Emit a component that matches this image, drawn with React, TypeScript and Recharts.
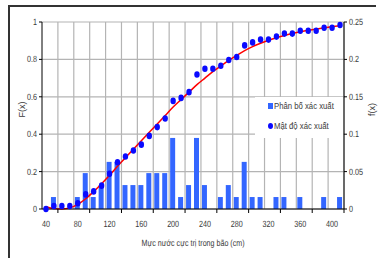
import { ComposedChart, Bar, Line, Scatter, XAxis, YAxis, CartesianGrid, ReferenceLine } from "recharts"

// water level bins (cm)
const levels = [40, 50, 60, 70, 80, 90, 100, 110, 120, 130, 140, 150, 160, 170, 180, 190, 200, 210, 220, 230, 240, 250, 260, 270, 280, 290, 300, 310, 320, 330, 340, 350, 360, 370, 380, 390, 400, 410]

// f(x) - bars, right axis
const density = [0, 0.016, 0, 0, 0.016, 0.048, 0.016, 0.032, 0.063, 0.063, 0.032, 0.032, 0.032, 0.048, 0.048, 0.048, 0.095, 0.016, 0.032, 0.095, 0.032, 0, 0.016, 0.032, 0.016, 0.063, 0.016, 0.016, 0, 0.016, 0.016, 0, 0.016, 0, 0, 0.016, 0, 0.016]

// F(x) - empirical points, left axis
const cumulative = [0, 0.016, 0.016, 0.016, 0.031, 0.078, 0.094, 0.125, 0.188, 0.25, 0.281, 0.313, 0.344, 0.391, 0.438, 0.484, 0.578, 0.594, 0.625, 0.719, 0.75, 0.75, 0.766, 0.797, 0.813, 0.875, 0.891, 0.906, 0.906, 0.922, 0.938, 0.938, 0.953, 0.953, 0.953, 0.969, 0.969, 0.984]

// fitted curve
const fitted = [0.012, 0.002, 0, 0.006, 0.025, 0.055, 0.093, 0.135, 0.18, 0.228, 0.274, 0.32, 0.365, 0.41, 0.455, 0.5, 0.545, 0.585, 0.625, 0.665, 0.7, 0.735, 0.765, 0.795, 0.822, 0.847, 0.868, 0.886, 0.902, 0.916, 0.928, 0.939, 0.948, 0.956, 0.963, 0.969, 0.975, 0.98]

const xTicks = [40, 80, 120, 160, 200, 240, 280, 320, 360, 400]
const gridX = [55, 75, 95, 115, 135, 155, 175, 195, 215, 235, 255, 275, 295, 315, 335, 355, 375, 395, 415]
const leftTicks = [0, 0.2, 0.4, 0.6, 0.8, 1]
const rightTicks = [0, 0.05, 0.1, 0.15, 0.2, 0.25]

const data = levels.map((x, i) => ({
  x,
  f: density[i],
  F: cumulative[i],
  fit: fitted[i]
}))

const W = 379
const H = 258
const TOP = 22
const LEFT_W = 42
const RIGHT_W = 35
const X_H = 49
const plotBottom = H - X_H
const plotW = W - LEFT_W - RIGHT_W
const domain: [number, number] = [35, 415]

const font = "'Liberation Sans', Arial, sans-serif"
const textColor = "#3a3a3a"
const gridColor = "#b4b4b4"
const squeeze = 0.8 // the source picture is narrowed horizontally

// rough width of a number label at 9px, squeezed
const numWidth = (s: string) =>
  s.split("").reduce((w, c) => w + (c === "." ? 2.5 : 5), 0) * squeeze

function Narrow({ x, y, anchor, children, baseline, len }: any) {
  return (
    <text
      x={x}
      y={y}
      textAnchor={anchor}
      dominantBaseline={baseline || "auto"}
      textLength={len}
      lengthAdjust="spacingAndGlyphs"
      fontSize={9}
      fontFamily={font}
      fill={textColor}
      style={{ textRendering: "geometricPrecision" }}
    >
      {children}
    </text>
  )
}

function XTick(props: any) {
  const { x, payload } = props
  const off = 15 * plotW / (domain[1] - domain[0])
  const s = String(payload.value)
  return (
    <g>
      <line x1={x + off} x2={x + off} y1={plotBottom} y2={plotBottom + 4} stroke="#000" />
      <Narrow x={x} y={plotBottom + 18} anchor="middle" len={numWidth(s)}>{s}</Narrow>
    </g>
  )
}

function YTick(props: any) {
  const { x, y, payload, textAnchor } = props
  const s = String(payload.value)
  return <Narrow x={x} y={y} anchor={textAnchor} baseline="central" len={numWidth(s)}>{s}</Narrow>
}

function SideTitle(props: any) {
  const { viewBox, text, cx } = props
  const cy = viewBox ? viewBox.y + viewBox.height / 2 - 6 : 110
  return (
    <text x={cx} y={cy} transform={`rotate(-90 ${cx} ${cy})`} textAnchor="middle" dominantBaseline="central" fontSize={9} fontFamily={font} fill={textColor}>
      {text}
    </text>
  )
}

function BottomTitle(props: any) {
  const { viewBox, text } = props
  const cx = viewBox ? viewBox.x + viewBox.width / 2 : 193
  return <Narrow x={cx} y={plotBottom + 37} anchor="middle" len={103}>{text}</Narrow>
}

function Dot(props: any) {
  const { cx, cy } = props
  return <ellipse cx={cx} cy={cy} rx={2.7} ry={3.3} fill="#0a0aff" />
}

const legendText = {
  position: "absolute" as const,
  left: 19,
  lineHeight: "12px",
  whiteSpace: "nowrap" as const,
  transform: "scaleX(0.86)",
  transformOrigin: "left center"
}

export default function App() {
  return (
    <div style={{ position: "absolute", left: 0, top: 0, width: W, height: H, background: "#fff", overflow: "hidden" }}>

      <div style={{ position: "absolute", left: 8, top: 5, width: 366, height: 260, borderLeft: "2px solid #333", borderTop: "2px solid #333" }} />

      <ComposedChart width={W} height={H} data={data} margin={{ top: TOP, right: 0, bottom: 0, left: 0 }}>

        <CartesianGrid yAxisId="left" vertical={false} stroke={gridColor} strokeWidth={1.2} />

        {gridX.map(g => (
          <ReferenceLine key={g} x={g} yAxisId="left" stroke={gridColor} strokeWidth={1.2} />
        ))}

        <XAxis
          dataKey="x"
          type="number"
          domain={domain}
          ticks={xTicks}
          interval={0}
          height={X_H}
          tickLine={false}
          axisLine={{ stroke: "#000" }}
          tick={<XTick />}
          label={<BottomTitle text="Mực nước cực trị trong bão (cm)" />}
        />

        <YAxis
          yAxisId="left"
          orientation="left"
          width={LEFT_W}
          domain={[0, 1]}
          ticks={leftTicks}
          interval={0}
          tickSize={3}
          tickMargin={2}
          axisLine={{ stroke: "#000" }}
          tickLine={{ stroke: "#000" }}
          tick={<YTick />}
          label={<SideTitle text="F(x)" cx={22} />}
        />

        <YAxis
          yAxisId="right"
          orientation="right"
          width={RIGHT_W}
          domain={[0, 0.25]}
          ticks={rightTicks}
          interval={0}
          tickSize={3}
          tickMargin={2}
          axisLine={{ stroke: "#000" }}
          tickLine={{ stroke: "#000" }}
          tick={<YTick />}
          label={<SideTitle text="f(x)" cx={372} />}
        />

        <Bar yAxisId="right" dataKey="f" fill="#3366ff" barSize={5} isAnimationActive={false} />

        <Scatter yAxisId="left" dataKey="F" shape={<Dot />} isAnimationActive={false} />

        <Line
          yAxisId="left"
          type="monotone"
          dataKey="fit"
          stroke="#ff0000"
          strokeWidth={1.5}
          dot={false}
          isAnimationActive={false}
        />

      </ComposedChart>

      <div style={{ position: "absolute", left: 255, top: 97, width: 88, height: 41, background: "#fff", fontFamily: font, fontSize: 9, color: textColor }}>
        <div style={{ position: "absolute", left: 13, top: 6, width: 5, height: 6, background: "#3366ff" }} />
        <div style={{ ...legendText, top: 3 }}>Phân bố xác xuất</div>
        <div style={{ position: "absolute", left: 13, top: 26, width: 5, height: 6, borderRadius: "50%", background: "#0a0aff" }} />
        <div style={{ ...legendText, top: 23 }}>Mật độ xác xuất</div>
      </div>

    </div>
  )
}
